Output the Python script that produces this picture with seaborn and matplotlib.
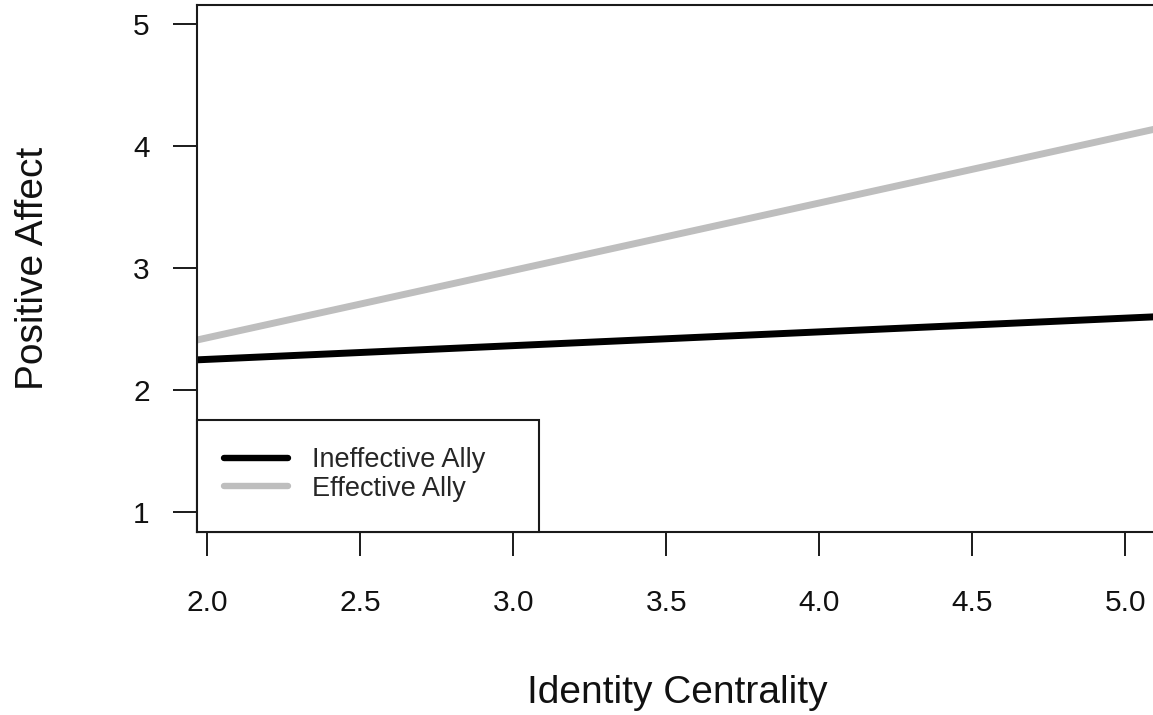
import numpy as np
import pandas as pd
import matplotlib
matplotlib.use("Agg")
import matplotlib.pyplot as plt
from matplotlib.lines import Line2D
from matplotlib.patches import Rectangle
import seaborn as sns

# Simple-slopes data: predicted positive affect across identity centrality
centrality = [1.95, 5.10]
ineffective_ally = [2.245, 2.60]
effective_ally = [2.40, 4.14]
groups = ["Ineffective Ally", "Effective Ally"]
colors = ["#000000", "#bebebe"]
x_ticks = [2.0, 2.5, 3.0, 3.5, 4.0, 4.5, 5.0]
y_ticks = [1, 2, 3, 4, 5]

df = pd.DataFrame({
    "Identity Centrality": centrality * 2,
    "Positive Affect": ineffective_ally + effective_ally,
    "Group": [groups[0]] * len(centrality) + [groups[1]] * len(centrality),
})

sns.set_style("white")
plt.rcParams["font.family"] = ["Liberation Sans", "DejaVu Sans"]

W, H = 1153, 715
fig = plt.figure(figsize=(W / 100, H / 100), dpi=100)
ax = fig.add_axes([197 / W, 1 - 532 / H, 1 - 197 / W, (532 - 5) / H])

sns.lineplot(data=df, x="Identity Centrality", y="Positive Affect", hue="Group",
             hue_order=groups, palette=colors, linewidth=5, ax=ax, legend=False,
             solid_capstyle="butt")

ax.set_xlim(1.967, 5.09)
ax.set_ylim(0.836, 5.155)
ax.set_xticks(x_ticks)
ax.set_xticklabels([f"{v:.1f}" for v in x_ticks])
ax.set_yticks(y_ticks)
ax.tick_params(axis="both", which="major", length=17, width=1.4, color="#1a1a1a",
               labelsize=21.5, labelcolor="#111111", bottom=True, left=True)
ax.tick_params(axis="x", pad=24)
ax.tick_params(axis="y", pad=17)

for side in ["left", "bottom", "top"]:
    ax.spines[side].set_visible(True)
    ax.spines[side].set_linewidth(1.5)
    ax.spines[side].set_color("#1a1a1a")
ax.spines["right"].set_visible(False)

ax.set_xlabel("Identity Centrality", fontsize=28, color="#111111", va="center")
ax.xaxis.set_label_coords(0.502, (532 - 693) / 527)
ax.set_ylabel("Positive Affect", fontsize=28, color="#111111", va="center")
ax.yaxis.set_label_coords((33 - 197) / 956, 0.501)

# Legend box in the lower-left corner of the plotting area
ax.add_patch(Rectangle((0, 0), (539 - 197) / 956, (532 - 420) / 527,
                       transform=ax.transAxes, facecolor="white",
                       edgecolor="#1a1a1a", linewidth=1.5, zorder=4,
                       clip_on=False))
handles = [Line2D([0], [0], color=c, lw=4.6, solid_capstyle="round") for c in colors]
leg = ax.legend(handles, groups, loc="upper left",
                bbox_to_anchor=((224 - 197) / 956, (532 - 447) / 527),
                frameon=False, fontsize=19.5, handlelength=2.35,
                handletextpad=0.9, borderpad=0.0, labelspacing=0.1,
                borderaxespad=0.0)
leg.set_zorder(5)

fig.savefig("out.png", dpi=100)
